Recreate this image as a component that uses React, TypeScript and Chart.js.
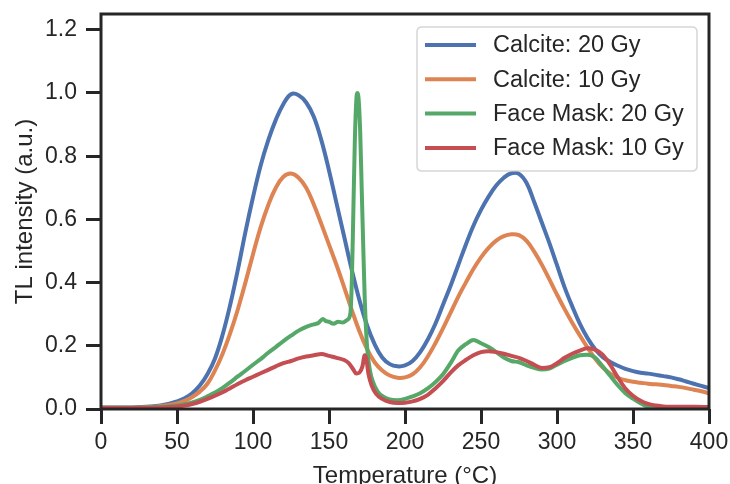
import React, { useEffect, useRef } from "react";
import { Chart, registerables } from "chart.js";

Chart.register(...registerables);

const xTicks = [0, 50, 100, 150, 200, 250, 300, 350, 400];
const yTicks = [0, 0.2, 0.4, 0.6, 0.8, 1.0, 1.2];

const calciteTemps = [
  0, 5, 10, 15, 20, 25, 30, 35, 40, 45, 50, 55, 60, 65, 70, 75, 80, 85, 90, 95,
  100, 105, 110, 115, 120, 125, 130, 135, 140, 145, 150, 155, 160, 165, 170, 175,
  180, 185, 190, 195, 200, 205, 210, 215, 220, 225, 230, 235, 240, 245, 250, 255,
  260, 265, 270, 275, 280, 285, 290, 295, 300, 305, 310, 315, 320, 325, 330, 335,
  340, 345, 350, 355, 360, 365, 370, 375, 380, 385, 390, 395, 400,
];

const calcite20 = [
  0.005, 0.005, 0.005, 0.005, 0.005, 0.006, 0.007, 0.009, 0.012, 0.017, 0.024,
  0.034, 0.05, 0.074, 0.11, 0.16, 0.235, 0.33, 0.44, 0.56, 0.67, 0.77, 0.85,
  0.915, 0.965, 0.996, 0.993, 0.97, 0.925, 0.85, 0.755, 0.65, 0.545, 0.44, 0.345,
  0.265, 0.205, 0.163, 0.142, 0.135, 0.138, 0.152, 0.18, 0.22, 0.27, 0.33, 0.39,
  0.455, 0.52, 0.58, 0.63, 0.672, 0.707, 0.732, 0.746, 0.744, 0.715, 0.655, 0.59,
  0.525, 0.455, 0.385, 0.325, 0.27, 0.225, 0.19, 0.165, 0.149, 0.137, 0.127, 0.12,
  0.115, 0.112, 0.108, 0.104, 0.1, 0.094, 0.087, 0.08, 0.073, 0.066,
];

const calcite10 = [
  0.004, 0.004, 0.004, 0.004, 0.004, 0.005, 0.006, 0.007, 0.01, 0.013, 0.018,
  0.026, 0.038, 0.055, 0.08, 0.122, 0.175, 0.24, 0.315, 0.4, 0.49, 0.575, 0.645,
  0.7, 0.735, 0.745, 0.732, 0.7, 0.647, 0.585, 0.52, 0.455, 0.385, 0.313, 0.246,
  0.19, 0.148, 0.122, 0.106, 0.099, 0.1, 0.11, 0.132, 0.166, 0.208, 0.255, 0.305,
  0.355, 0.4, 0.443, 0.48, 0.51, 0.533, 0.547, 0.553, 0.55, 0.532, 0.498, 0.457,
  0.41, 0.362, 0.316, 0.273, 0.233, 0.195, 0.16, 0.132, 0.112, 0.099, 0.091, 0.086,
  0.083, 0.08, 0.078, 0.076, 0.073, 0.07, 0.066, 0.061, 0.056, 0.05,
];

const mask20Temps = [
  0, 10, 20, 30, 35, 40, 45, 50, 55, 60, 65, 70, 75, 80, 85, 90, 95, 100, 105,
  110, 115, 120, 125, 130, 135, 140, 143, 146, 148, 150, 153, 156, 159, 162, 164,
  165, 166, 167, 168, 168.6, 169.5, 170.5, 171.5, 172.5, 173.5, 175, 177, 179,
  182, 186, 190, 195, 200, 205, 210, 215, 220, 225, 230, 235, 240, 245, 250, 255,
  260, 265, 270, 275, 280, 285, 290, 295, 300, 305, 310, 315, 320, 325, 330, 335,
  340, 345, 350, 355, 360, 365, 370, 380, 390, 400,
];

const mask20 = [
  0.004, 0.004, 0.004, 0.005, 0.006, 0.007, 0.009, 0.011, 0.015, 0.021, 0.029,
  0.04, 0.052, 0.067, 0.084, 0.103, 0.121, 0.14, 0.158, 0.178, 0.196, 0.215, 0.232,
  0.248, 0.26, 0.268, 0.272, 0.285, 0.278, 0.276, 0.27, 0.276, 0.274, 0.282, 0.3,
  0.4, 0.62, 0.85, 0.98, 1.0, 0.98, 0.88, 0.7, 0.52, 0.35, 0.2, 0.12, 0.085,
  0.055, 0.038, 0.03, 0.028, 0.032, 0.04, 0.05, 0.065, 0.085, 0.11, 0.145, 0.185,
  0.205, 0.218, 0.208, 0.196, 0.18, 0.163, 0.152, 0.148, 0.138, 0.13, 0.125,
  0.128, 0.14, 0.152, 0.162, 0.17, 0.172, 0.163, 0.135, 0.105, 0.075, 0.05,
  0.033, 0.018, 0.006, 0.0, 0.0, 0.0, 0.0, 0.0,
];

const mask10Temps = [
  0, 10, 20, 30, 40, 45, 50, 55, 60, 65, 70, 75, 80, 85, 90, 95, 100, 105, 110,
  115, 120, 125, 130, 135, 140, 145, 150, 155, 160, 163, 166, 168, 170, 172,
  173.5, 174.5, 176, 178, 181, 185, 190, 195, 200, 205, 210, 215, 220, 225, 230,
  235, 240, 245, 250, 255, 260, 265, 270, 275, 280, 285, 290, 295, 300, 305, 310,
  315, 320, 325, 330, 335, 340, 345, 350, 355, 360, 365, 370, 380, 390, 400,
];

const mask10 = [
  0.003, 0.003, 0.003, 0.004, 0.005, 0.006, 0.008, 0.011, 0.016, 0.023, 0.032,
  0.042, 0.053, 0.066, 0.079, 0.091, 0.102, 0.113, 0.124, 0.135, 0.145, 0.152,
  0.16, 0.166, 0.17, 0.174, 0.168, 0.162, 0.155, 0.145, 0.125, 0.112, 0.115,
  0.135, 0.17, 0.16, 0.11, 0.075, 0.048, 0.032, 0.022, 0.019, 0.02, 0.024, 0.032,
  0.045, 0.065, 0.088, 0.115, 0.138, 0.155, 0.17, 0.18, 0.183, 0.18, 0.175, 0.168,
  0.162, 0.152, 0.14, 0.13, 0.132, 0.145, 0.162, 0.175, 0.185, 0.192, 0.188,
  0.172, 0.14, 0.1, 0.065, 0.042, 0.026, 0.016, 0.011, 0.008, 0.007, 0.007, 0.006,
];

const seriesLabels = [
  "Calcite: 20 Gy",
  "Calcite: 10 Gy",
  "Face Mask: 20 Gy",
  "Face Mask: 10 Gy",
];
const seriesColors = ["#4c72b0", "#dd8452", "#55a868", "#c44e52"];

const INK = "#262626";
const FONT = "'Liberation Sans', Arial, sans-serif";

const zip = (xs: number[], ys: number[]) => xs.map((x, i) => ({ x, y: ys[i] }));

const framePlugin = {
  id: "frame",
  afterDatasetsDraw(chart: any) {
    const { ctx, chartArea } = chart;
    ctx.save();
    ctx.strokeStyle = INK;
    ctx.lineWidth = 3;
    ctx.strokeRect(
      chartArea.left,
      chartArea.top,
      chartArea.right - chartArea.left,
      chartArea.bottom - chartArea.top
    );
    ctx.restore();
  },
};

const legendPlugin = {
  id: "innerLegend",
  afterDraw(chart: any) {
    const { ctx } = chart;
    const bx = 417, by = 27, bw = 280, bh = 144, r = 5;
    ctx.save();
    ctx.beginPath();
    ctx.moveTo(bx + r, by);
    ctx.lineTo(bx + bw - r, by);
    ctx.quadraticCurveTo(bx + bw, by, bx + bw, by + r);
    ctx.lineTo(bx + bw, by + bh - r);
    ctx.quadraticCurveTo(bx + bw, by + bh, bx + bw - r, by + bh);
    ctx.lineTo(bx + r, by + bh);
    ctx.quadraticCurveTo(bx, by + bh, bx, by + bh - r);
    ctx.lineTo(bx, by + r);
    ctx.quadraticCurveTo(bx, by, bx + r, by);
    ctx.closePath();
    ctx.fillStyle = "rgba(255,255,255,0.8)";
    ctx.fill();
    ctx.strokeStyle = "rgba(204,204,204,0.8)";
    ctx.lineWidth = 1.5;
    ctx.stroke();
    chart.data.datasets.forEach((ds: any, i: number) => {
      const y = 45 + i * 34.3;
      ctx.strokeStyle = ds.borderColor;
      ctx.lineWidth = 4;
      ctx.lineCap = "butt";
      ctx.beginPath();
      ctx.moveTo(425, y);
      ctx.lineTo(476, y);
      ctx.stroke();
      ctx.fillStyle = INK;
      ctx.font = `23.5px ${FONT}`;
      ctx.textBaseline = "middle";
      ctx.textAlign = "left";
      ctx.fillText(ds.label, 493, y + 1);
    });
    ctx.restore();
  },
};

export default function App() {
  const ref = useRef<HTMLCanvasElement | null>(null);

  useEffect(() => {
    if (!ref.current) return;
    const temps = [calciteTemps, calciteTemps, mask20Temps, mask10Temps];
    const vals = [calcite20, calcite10, mask20, mask10];
    const chart = new Chart(ref.current, {
      type: "line",
      data: {
        datasets: seriesLabels.map((label, i) => ({
          label,
          data: zip(temps[i], vals[i]),
          borderColor: seriesColors[i],
          backgroundColor: seriesColors[i],
          borderWidth: 4,
          pointRadius: 0,
          fill: false,
          tension: 0.4,
          cubicInterpolationMode: i < 2 ? ("default" as const) : ("monotone" as const),
          order: 4 - i,
        })),
      },
      options: {
        responsive: false,
        animation: false,
        events: [],
        layout: { padding: { left: 0, right: 21, top: 14, bottom: 0 } },
        plugins: {
          legend: { display: false },
          tooltip: { enabled: false },
        },
        scales: {
          x: {
            type: "linear",
            min: 0,
            max: 400,
            afterBuildTicks: (s: any) => {
              s.ticks = xTicks.map((v) => ({ value: v }));
            },
            afterFit: (s: any) => {
              s.height = 75;
              s.paddingLeft = 0;
              s.paddingRight = 0;
            },
            border: { display: false },
            grid: {
              drawOnChartArea: false,
              drawTicks: true,
              tickLength: 15,
              tickWidth: 3,
              tickColor: INK,
            },
            ticks: {
              color: INK,
              font: { family: FONT, size: 23 },
              padding: 5,
              maxRotation: 0,
              callback: (v: any) => String(v),
            },
            title: {
              display: true,
              text: "Temperature (°C)",
              color: INK,
              font: { family: FONT, size: 24 },
              padding: { top: 0, bottom: -7 },
            },
          },
          y: {
            type: "linear",
            min: 0,
            max: 1.25,
            afterBuildTicks: (s: any) => {
              s.ticks = yTicks.map((v) => ({ value: v }));
            },
            afterFit: (s: any) => {
              s.width = 101;
              s.paddingTop = 0;
              s.paddingBottom = 0;
            },
            border: { display: false },
            grid: {
              drawOnChartArea: false,
              drawTicks: true,
              tickLength: 15,
              tickWidth: 3,
              tickColor: INK,
            },
            ticks: {
              color: INK,
              font: { family: FONT, size: 23 },
              padding: 9,
              callback: (v: any) => Number(v).toFixed(1),
            },
            title: {
              display: true,
              text: "TL intensity (a.u.)",
              color: INK,
              font: { family: FONT, size: 24 },
              padding: { top: 10.5, bottom: 0 },
            },
          },
        },
      },
      plugins: [framePlugin, legendPlugin],
    });
    return () => chart.destroy();
  }, []);

  return (
    <div style={{ position: "fixed", left: 0, top: 0, width: 730, height: 484, background: "#fff" }}>
      <canvas ref={ref} width={730} height={484} />
    </div>
  );
}
